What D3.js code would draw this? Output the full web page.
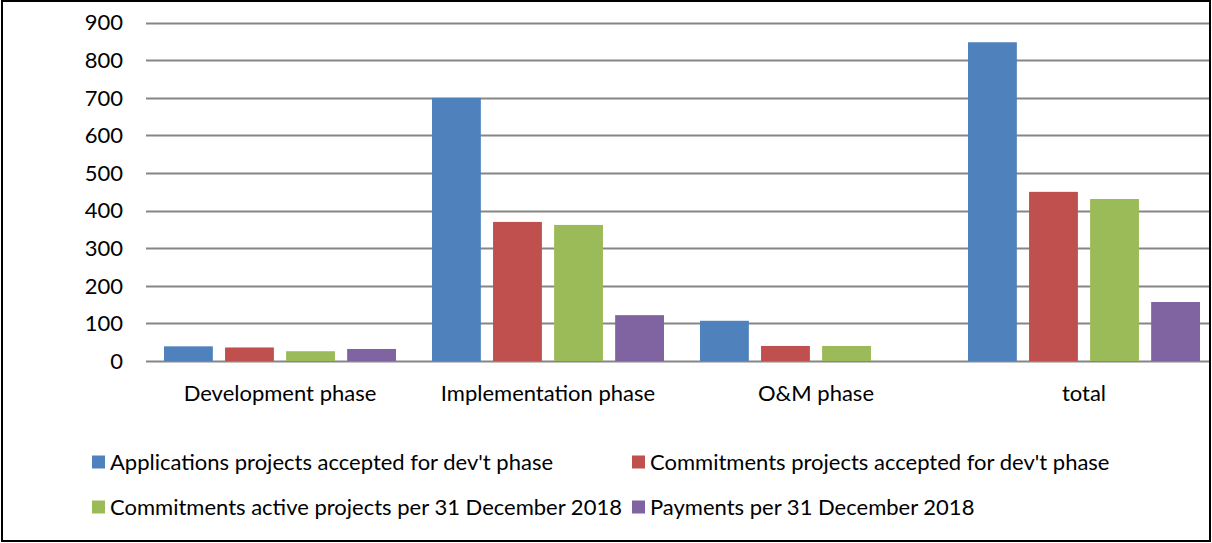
<!DOCTYPE html>
<html>
<head>
<meta charset="utf-8">
<script src="https://cdn.jsdelivr.net/npm/d3@7"></script>
<style>
  body { margin: 0; background: #fff; }
  svg { display: block; }
</style>
</head>
<body>
<svg id="chart"></svg>
<script>
// chart data
const phases = ["Development phase", "Implementation phase", "O&M phase", "total"];
const seriesNames = [
  "Applications projects accepted for dev't phase",
  "Commitments projects accepted for dev't phase",
  "Commitments active projects per 31 December 2018",
  "Payments per 31 December 2018"
];
const applications = [39, 700, 107, 848];
const commitmentsAccepted = [36, 370, 40, 450];
const commitmentsActive = [26, 362, 40, 431];
const payments = [32, 122, 0, 157];
const yTicks = [0, 100, 200, 300, 400, 500, 600, 700, 800, 900];

const colors = ["#4F81BD", "#C0504D", "#9BBB59", "#8064A2"];
const allSeries = [applications, commitmentsAccepted, commitmentsActive, payments];

const width = 1212, height = 543;
const font = "Lato, 'Open Sans', sans-serif";
const fontSize = 22;

const svg = d3.select("#chart").attr("width", width).attr("height", height);

// outer frame
svg.append("rect")
  .attr("x", 2).attr("y", 1)
  .attr("width", 1208).attr("height", 540)
  .attr("fill", "#fff")
  .attr("stroke", "#000")
  .attr("stroke-width", 2);

// plot area runs a little past the frame on the right
const x0 = d3.scaleBand()
  .domain(phases)
  .range([146, 1218]);

const x1 = d3.scaleBand()
  .domain(d3.range(seriesNames.length))
  .range([18, 250])
  .paddingInner(0.2);

const y = d3.scaleLinear()
  .domain([0, 900])
  .range([361, 22.7]);

// gridlines
svg.append("g")
  .selectAll("line")
  .data(yTicks)
  .join("line")
  .attr("x1", 146)
  .attr("x2", 1209)
  .attr("y1", d => Math.round(y(d)) + 0.5)
  .attr("y2", d => Math.round(y(d)) + 0.5)
  .attr("stroke", "#868686")
  .attr("stroke-width", 2);

// y tick labels
svg.append("g")
  .selectAll("text")
  .data(yTicks)
  .join("text")
  .attr("x", 123)
  .attr("y", d => y(d))
  .attr("dy", "0.35em")
  .attr("text-anchor", "end")
  .attr("font-family", font)
  .attr("font-size", fontSize)
  .attr("fill", "#000")
  .text(d => d);

// bars
const groups = svg.append("g")
  .selectAll("g")
  .data(phases)
  .join("g")
  .attr("transform", d => `translate(${x0(d)},0)`);

groups.selectAll("rect")
  .data((d, i) => allSeries.map((s, k) => ({ k: k, v: s[i] })))
  .join("rect")
  .attr("x", d => x1(d.k))
  .attr("width", x1.bandwidth())
  .attr("y", d => y(d.v))
  .attr("height", d => y(0) - y(d.v))
  .attr("fill", d => colors[d.k])
  .attr("opacity", d => d.v > 0 ? 1 : 0);

// category labels
svg.append("g")
  .selectAll("text")
  .data(phases)
  .join("text")
  .attr("x", d => x0(d) + x0.bandwidth() / 2)
  .attr("y", 393)
  .attr("dy", "0.35em")
  .attr("text-anchor", "middle")
  .attr("font-family", font)
  .attr("font-size", fontSize)
  .attr("fill", "#000")
  .text(d => d);

// legend
const legendPos = [[92, 462], [632, 462], [92, 507], [632, 507]];
const legend = svg.append("g")
  .selectAll("g")
  .data(seriesNames)
  .join("g")
  .attr("transform", (d, i) => `translate(${legendPos[i][0]},${legendPos[i][1]})`);

legend.append("rect")
  .attr("x", 0).attr("y", -6.5)
  .attr("width", 13).attr("height", 13)
  .attr("fill", (d, i) => colors[i]);

legend.append("text")
  .attr("x", 18)
  .attr("y", 0)
  .attr("dy", "0.35em")
  .attr("font-family", font)
  .attr("font-size", fontSize)
  .attr("fill", "#000")
  .text(d => d);
</script>
</body>
</html>
